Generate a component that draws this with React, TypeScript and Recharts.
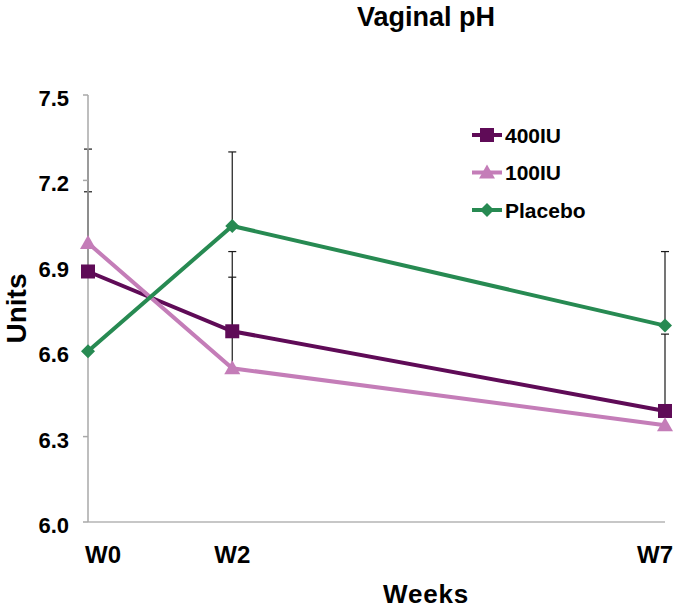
import React from 'react';
import { LineChart, Line, XAxis, YAxis, ErrorBar, Legend } from 'recharts';

const weeks = ['W0', 'W2', 'W7'];
// horizontal placement of the three visits as spaced in the source chart
const visitPos = [0, 1, 4];
const iu400 = [6.88, 6.67, 6.39];
const iu100 = [6.98, 6.54, 6.34];
const placebo = [6.6, 7.04, 6.69];
// upper error bars only (null = not visible)
const iu400Err = [0.28, 0.19, 0.27];
const iu100Err = [0.33, 0.41, null];
const placeboErr = [null, 0.26, 0.26];
const yTicks = [6.0, 6.3, 6.6, 6.9, 7.2, 7.5];

const FONT = '"Liberation Sans", Arial, sans-serif';

const series = [
  { key: 'iu400', name: '400IU', color: '#5f0b57', shape: 'square' },
  { key: 'iu100', name: '100IU', color: '#c47db8', shape: 'triangle' },
  { key: 'placebo', name: 'Placebo', color: '#278a52', shape: 'diamond' },
];

const up = (e: number | null) => (e == null ? null : [0, e]);

const data = weeks.map((w, i) => ({
  week: w,
  pos: visitPos[i],
  iu400: iu400[i],
  iu100: iu100[i],
  placebo: placebo[i],
  iu400Err: up(iu400Err[i]),
  iu100Err: up(iu100Err[i]),
  placeboErr: up(placeboErr[i]),
}));

const Marker = ({ shape, cx, cy, color }: any) => {
  if (shape === 'square') return <rect x={cx - 7} y={cy - 7} width={14} height={14} fill={color} />;
  if (shape === 'triangle')
    return <polygon points={`${cx},${cy - 8} ${cx + 8},${cy + 6} ${cx - 8},${cy + 6}`} fill={color} />;
  return <polygon points={`${cx},${cy - 7} ${cx + 7},${cy} ${cx},${cy + 7} ${cx - 7},${cy}`} fill={color} />;
};

const WeekTick = ({ x, y, payload, index }: any) => {
  const i = visitPos.indexOf(payload.value);
  const last = index === weeks.length - 1;
  const anchor = index === 0 ? 'start' : last ? 'end' : 'middle';
  const dx = index === 0 ? -3 : last ? 8 : 0;
  return (
    <text x={x + dx} y={y + 41} textAnchor={anchor} fontSize={24} fontWeight="bold" fontFamily={FONT} fill="#000">
      {weeks[i]}
    </text>
  );
};

const UnitTick = ({ x, y, payload }: any) => (
  <text x={x} y={y + 3} dy="0.36em" textAnchor="end" fontSize={22} fontWeight="bold" fontFamily={FONT} fill="#000">
    {Number(payload.value).toFixed(1)}
  </text>
);

const renderLegend = () => (
  <svg width={150} height={110}>
    {series.map((s, i) => {
      const cy = 20 + i * 37.5;
      return (
        <g key={s.key}>
          <line x1={7} x2={37} y1={cy} y2={cy} stroke={s.color} strokeWidth={4} />
          <Marker shape={s.shape} cx={22} cy={cy} color={s.color} />
          <text x={40} y={cy} dy="0.36em" fontSize={21} fontWeight="bold" fontFamily={FONT} fill="#000">
            {s.name}
          </text>
        </g>
      );
    })}
  </svg>
);

export default function App() {
  return (
    <div style={{ position: 'absolute', left: 0, top: 0, width: 680, height: 612, fontFamily: FONT }}>
      <div
        style={{
          position: 'absolute',
          left: 326,
          top: 4,
          width: 200,
          textAlign: 'center',
          fontSize: 27,
          lineHeight: '27px',
          fontWeight: 'bold',
        }}
      >
        Vaginal pH
      </div>
      <LineChart width={680} height={612} data={data} margin={{ top: 95, right: 15, bottom: 0, left: 0 }}>
        <XAxis
          type="number"
          dataKey="pos"
          domain={[0, 4]}
          ticks={visitPos}
          tickLine={false}
          tickSize={0}
          tickMargin={0}
          height={90}
          stroke="#b5b5b5"
          strokeWidth={1.5}
          tick={<WeekTick />}
          label={({ viewBox }: any) => (
            <text
              x={426}
              y={viewBox.y + 81}
              textAnchor="middle"
              fontSize={26}
              letterSpacing={0.8}
              fontWeight="bold"
              fontFamily={FONT}
              fill="#000"
            >
              Weeks
            </text>
          )}
        />
        <YAxis
          domain={[6, 7.5]}
          ticks={yTicks}
          width={88}
          tickSize={5}
          tickMargin={14}
          stroke="#a8a8a8"
          strokeWidth={1.5}
          tick={<UnitTick />}
          label={({ viewBox }: any) => {
            const cx = 16;
            const cy = viewBox.y + viewBox.height / 2;
            return (
              <text
                x={cx}
                y={cy}
                transform={`rotate(-90 ${cx} ${cy})`}
                textAnchor="middle"
                dy="0.36em"
                fontSize={28}
                fontWeight="bold"
                fontFamily={FONT}
                fill="#000"
              >
                Units
              </text>
            );
          }}
        />
        <Legend
          layout="vertical"
          align="center"
          verticalAlign="middle"
          wrapperStyle={{ left: 465, top: 115, width: 150 }}
          content={renderLegend}
        />
        {series.map((s) => (
          <Line
            key={s.key}
            type="linear"
            dataKey={s.key}
            name={s.name}
            stroke={s.color}
            strokeWidth={4}
            isAnimationActive={false}
            dot={(p: any) => <Marker key={`${s.key}-${p.index}`} shape={s.shape} cx={p.cx} cy={p.cy} color={s.color} />}
            activeDot={false}
          >
            <ErrorBar dataKey={`${s.key}Err`} direction="y" width={4} stroke="#1a1a1a" strokeWidth={1.2} />
          </Line>
        ))}
      </LineChart>
    </div>
  );
}
